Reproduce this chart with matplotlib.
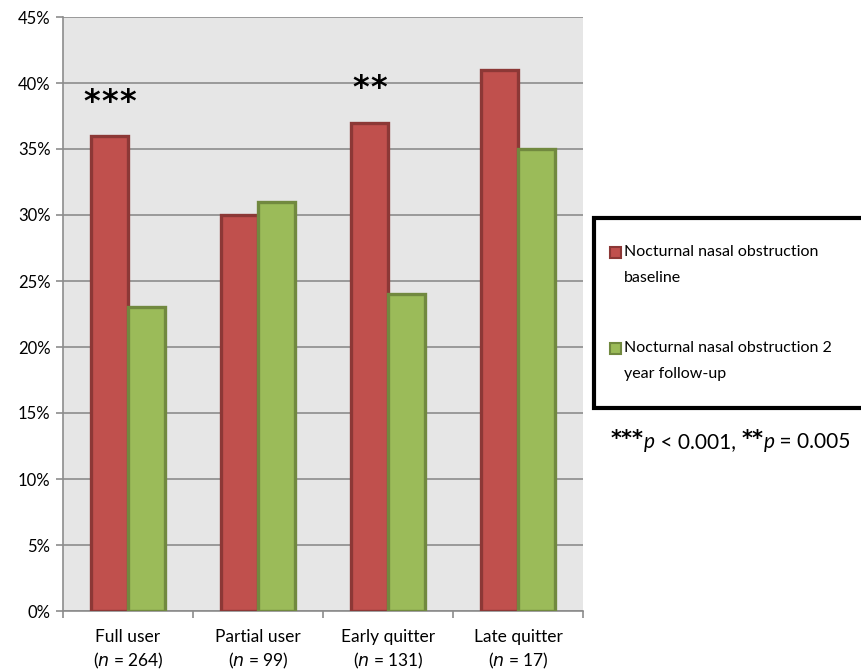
import matplotlib
matplotlib.use("Agg")
import matplotlib.pyplot as plt
from matplotlib.patches import Rectangle
from matplotlib.transforms import offset_copy
import numpy as np

plt.rcParams['font.family'] = ['Lato', 'DejaVu Sans']

categories = ["Full user", "Partial user", "Early quitter", "Late quitter"]
n_values = ["264", "99", "131", "17"]
baseline = [36, 30, 37, 41]
followup = [23, 31, 24, 35]
stars = [3, 0, 2, 0]
yticks = [0, 5, 10, 15, 20, 25, 30, 35, 40, 45]

red_face, red_edge = "#C0504D", "#8C3836"
green_face, green_edge = "#9BBB59", "#71893F"

W, H = 862, 672
fig = plt.figure(figsize=(W/100, H/100), dpi=100)
ax = fig.add_axes([63/W, 1-611/H, 520/W, 594/H])
ax.set_facecolor("#E6E6E6")

x = np.arange(len(categories))
w = 0.285
ax.bar(x - w/2, baseline, w, color=red_face, edgecolor=red_edge, linewidth=2.4, zorder=3)
ax.bar(x + w/2, followup, w, color=green_face, edgecolor=green_edge, linewidth=2.4, zorder=3)

for i, k in enumerate(stars):
    for j in range(k):
        dx = (j - (k - 1) / 2) * 18 * 0.72  # points
        tr = offset_copy(ax.transData, fig=fig, x=dx, y=0, units="points")
        ax.text(x[i] - w/2, baseline[i] + 2.55, "*", ha="center", va="center",
                fontsize=23, fontweight="bold", family="DejaVu Sans", zorder=4,
                transform=tr)

ax.set_xlim(-0.5, len(categories) - 0.5)
ax.set_ylim(0, 45)
ax.set_yticks(yticks)
ax.set_yticklabels([f"{t}%" for t in yticks], fontsize=12)
ax.yaxis.grid(True, color="#8C8C8C", linewidth=1.2, zorder=0)
ax.set_axisbelow(True)

ax.set_xticks(np.arange(len(categories) + 1) - 0.5)
ax.set_xticklabels([])
ax.set_xticks(x, minor=True)
ax.set_xticklabels([f"{c}\n($n$ = {n})" for c, n in zip(categories, n_values)],
                   minor=True, fontsize=12.5, linespacing=1.35)
ax.tick_params(axis="x", which="minor", length=0, pad=13)
ax.tick_params(axis="x", which="major", length=5, color="#8C8C8C", width=1.2)
ax.tick_params(axis="y", length=5, color="#8C8C8C", width=1.2, pad=4)

for sp in ["top", "right"]:
    ax.spines[sp].set_visible(False)
for sp in ["left", "bottom"]:
    ax.spines[sp].set_color("#8C8C8C")
    ax.spines[sp].set_linewidth(1.2)

# legend box
box = Rectangle((594/W, 1-408/H), 290/W, 190/H, transform=fig.transFigure,
                facecolor="white", edgecolor="black", linewidth=3, clip_on=False)
fig.patches.append(box)
legend_items = [("Nocturnal nasal obstruction", "baseline", red_face, red_edge, 252),
                ("Nocturnal nasal obstruction 2", "year follow-up", green_face, green_edge, 348)]
for l1, l2, fc, ec, yy in legend_items:
    sq = Rectangle((610/W, 1-(yy+6)/H), 11/W, 11/H, transform=fig.transFigure,
                   facecolor=fc, edgecolor=ec, linewidth=1.5)
    fig.patches.append(sq)
    fig.text(624/W, 1-yy/H, l1, ha="left", va="center", fontsize=11.5)
    fig.text(624/W, 1-(yy+26)/H, l2, ha="left", va="center", fontsize=11.5)

# p-value note built from pieces
pieces = [("***", "bold", "normal", "DejaVu Sans", -3), ("p", "normal", "italic", "Lato", 0),
          (" < 0.001, ", "normal", "normal", "Lato", 0),
          ("**", "bold", "normal", "DejaVu Sans", -3), ("p", "normal", "italic", "Lato", 0),
          (" = 0.005", "normal", "normal", "Lato", 0)]
fig.canvas.draw()
renderer = fig.canvas.get_renderer()
xpos = 611
for txt, wt, st, fam, dy in pieces:
    t = fig.text(xpos/W, 1-(442+dy)/H, txt, ha="left", va="center",
                 fontsize=15, fontweight=wt, fontstyle=st, family=fam)
    bb = t.get_window_extent(renderer)
    xpos += bb.width

fig.savefig("out.png", dpi=100)
